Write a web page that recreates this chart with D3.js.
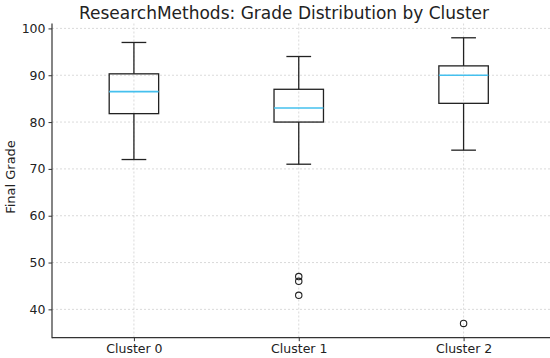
<!DOCTYPE html>
<html>
<head>
<meta charset="utf-8">
<script src="https://cdn.jsdelivr.net/npm/d3@7"></script>
<style>
  body { margin: 0; background: #fff; }
  text { font-family: "DejaVu Sans", sans-serif; fill: #222; }
</style>
</head>
<body>
<script>
var clusters = ["Cluster 0", "Cluster 1", "Cluster 2"];
var whiskerLow = [72, 71, 74];
var q1 = [81.8, 80, 84];
var median = [86.5, 83, 90];
var q3 = [90.3, 87, 92];
var whiskerHigh = [97, 94, 98];
var outliers = [[], [47, 46, 43], [37]];
var yTicks = [40, 50, 60, 70, 80, 90, 100];

var width = 550,
    height = 358,
    plotLeft = 52,
    plotRight = 546,
    plotTop = 23.5,
    plotBottom = 337.7;

var svg = d3.select("body").append("svg")
    .attr("width", width)
    .attr("height", height);

var x = d3.scaleLinear().domain([0.5, 3.5]).range([plotLeft - 0.5, plotRight]);
var y = d3.scaleLinear().domain([33.95, 101.05]).range([plotBottom, plotTop]);
var boxW = x(1.3) - x(1);

// grid
svg.append("g").selectAll("line")
    .data(yTicks)
    .enter().append("line")
    .attr("x1", plotLeft).attr("x2", width)
    .attr("y1", function (d) { return y(d); })
    .attr("y2", function (d) { return y(d); })
    .style("stroke", "#d0d0d0").style("stroke-dasharray", "2,2").style("stroke-width", 0.8);
svg.append("g").selectAll("line")
    .data(clusters)
    .enter().append("line")
    .attr("x1", function (d, i) { return x(i + 1); })
    .attr("x2", function (d, i) { return x(i + 1); })
    .attr("y1", plotTop).attr("y2", plotBottom)
    .style("stroke", "#d0d0d0").style("stroke-dasharray", "2,2").style("stroke-width", 0.8);

// axes
var yAxis = svg.append("g")
    .attr("transform", "translate(" + plotLeft + ",0)")
    .call(d3.axisLeft(y).tickValues(yTicks).tickSize(3.5).tickPadding(3));
var xAxis = svg.append("g")
    .attr("transform", "translate(0," + plotBottom + ")")
    .call(d3.axisBottom(x).tickValues([1, 2, 3]).tickSize(3.5).tickPadding(3)
        .tickFormat(function (d) { return clusters[d - 1]; }));
[yAxis, xAxis].forEach(function (a) {
    a.select(".domain").remove();
    a.selectAll("text").style("font-size", "12.5px").style("fill", "#222")
        .style("font-family", "DejaVu Sans, sans-serif");
    a.selectAll("line").style("stroke", "#333");
});
svg.append("line").attr("x1", plotLeft).attr("x2", plotLeft).attr("y1", plotTop).attr("y2", plotBottom + 0.5)
    .style("stroke", "#333").style("stroke-width", 1.2);
svg.append("line").attr("x1", plotLeft).attr("x2", plotRight + 4).attr("y1", plotBottom).attr("y2", plotBottom)
    .style("stroke", "#333").style("stroke-width", 1.2);

// boxes
var g = svg.selectAll("g.box")
    .data(clusters)
    .enter().append("g")
    .attr("class", "box");

g.append("line")
    .attr("x1", function (d, i) { return x(i + 1); })
    .attr("x2", function (d, i) { return x(i + 1); })
    .attr("y1", function (d, i) { return y(whiskerHigh[i]); })
    .attr("y2", function (d, i) { return y(q3[i]); })
    .style("stroke", "#222").style("stroke-width", 1.3);
g.append("line")
    .attr("x1", function (d, i) { return x(i + 1); })
    .attr("x2", function (d, i) { return x(i + 1); })
    .attr("y1", function (d, i) { return y(q1[i]); })
    .attr("y2", function (d, i) { return y(whiskerLow[i]); })
    .style("stroke", "#222").style("stroke-width", 1.3);
g.selectAll("line.cap")
    .data(function (d, i) { return [[i, whiskerHigh[i]], [i, whiskerLow[i]]]; })
    .enter().append("line")
    .attr("class", "cap")
    .attr("x1", function (d) { return x(d[0] + 1) - boxW / 4; })
    .attr("x2", function (d) { return x(d[0] + 1) + boxW / 4; })
    .attr("y1", function (d) { return y(d[1]); })
    .attr("y2", function (d) { return y(d[1]); })
    .style("stroke", "#222").style("stroke-width", 1.3);
g.append("rect")
    .attr("x", function (d, i) { return x(i + 1) - boxW / 2; })
    .attr("y", function (d, i) { return y(q3[i]); })
    .attr("width", boxW)
    .attr("height", function (d, i) { return y(q1[i]) - y(q3[i]); })
    .style("fill", "none").style("stroke", "#222").style("stroke-width", 1.3);
g.append("line")
    .attr("x1", function (d, i) { return x(i + 1) - boxW / 2; })
    .attr("x2", function (d, i) { return x(i + 1) + boxW / 2; })
    .attr("y1", function (d, i) { return y(median[i]); })
    .attr("y2", function (d, i) { return y(median[i]); })
    .style("stroke", "#45c0ee").style("stroke-width", 1.6);
g.selectAll("circle")
    .data(function (d, i) { return outliers[i].map(function (v) { return [i, v]; }); })
    .enter().append("circle")
    .attr("cx", function (d) { return x(d[0] + 1); })
    .attr("cy", function (d) { return y(d[1]); })
    .attr("r", 3.2)
    .style("fill", "none").style("stroke", "#222").style("stroke-width", 1.1);

// labels
svg.append("text")
    .attr("x", 284).attr("y", 18.5)
    .style("text-anchor", "middle").style("font-size", "17px")
    .text("ResearchMethods: Grade Distribution by Cluster");
svg.append("text")
    .attr("transform", "translate(15,177) rotate(-90)")
    .style("text-anchor", "middle").style("font-size", "13px")
    .text("Final Grade");
</script>
</body>
</html>
